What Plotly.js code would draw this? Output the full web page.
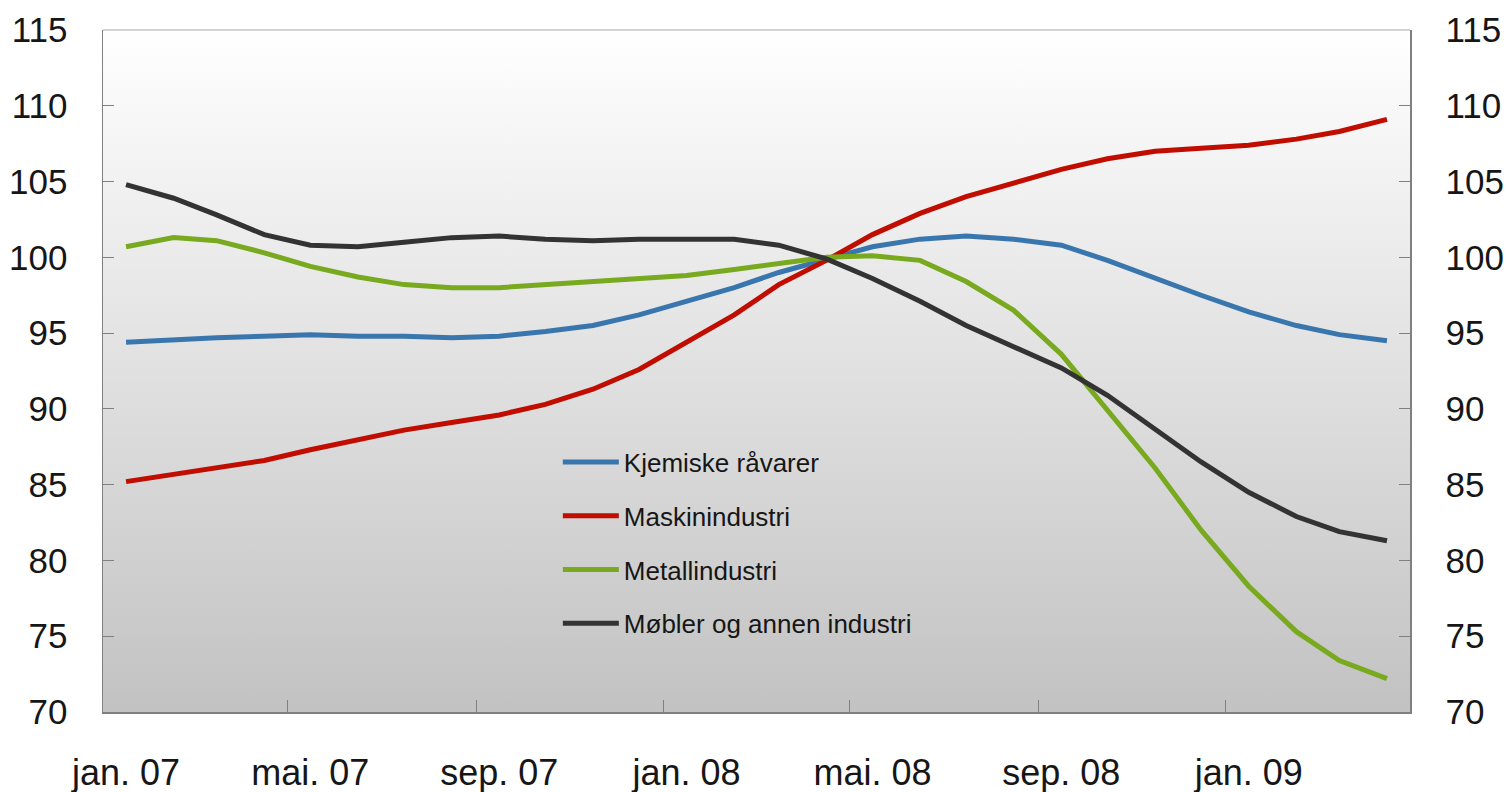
<!DOCTYPE html>
<html>
<head>
<meta charset="utf-8">
<script src="https://cdn.plot.ly/plotly-3.0.1.min.js"></script>
<style>html,body{margin:0;padding:0;background:#fff;}#chart{width:1506px;height:792px;}</style>
</head>
<body>
<div id="chart"></div>
<script>
// Monthly observations, jan. 2007 – apr. 2009
const months = ['2007-01','2007-02','2007-03','2007-04','2007-05','2007-06','2007-07','2007-08','2007-09','2007-10','2007-11','2007-12',
                '2008-01','2008-02','2008-03','2008-04','2008-05','2008-06','2008-07','2008-08','2008-09','2008-10','2008-11','2008-12',
                '2009-01','2009-02','2009-03','2009-04'];

const seriesNames = ['Kjemiske råvarer','Maskinindustri','Metallindustri','Møbler og annen industri'];

const kjemiske = [94.4,94.6,94.7,94.8,94.9,94.8,94.8,94.7,94.8,95.1,95.5,96.2,97.1,98.0,99.0,99.9,100.7,101.2,101.4,101.2,100.8,99.8,98.6,97.5,96.4,95.5,94.9,94.5];
const maskin   = [85.2,85.7,86.1,86.6,87.3,88.0,88.6,89.1,89.6,90.3,91.3,92.6,94.4,96.2,98.2,99.8,101.5,102.9,104.0,104.9,105.8,106.5,107.0,107.2,107.4,107.8,108.3,109.1];
const metall   = [100.7,101.3,101.1,100.3,99.4,98.7,98.2,98.0,98.0,98.2,98.4,98.6,98.8,99.2,99.6,100.0,100.1,99.8,98.4,96.5,93.6,89.9,86.1,82.0,78.3,75.3,73.4,72.2];
const mobler   = [104.8,103.9,102.8,101.5,100.8,100.7,101.0,101.3,101.4,101.2,101.1,101.2,101.2,101.2,100.8,99.9,98.6,97.1,95.5,94.1,92.7,90.9,88.7,86.5,84.5,82.9,81.9,81.3];

const tickDates  = ['2007-01-01','2007-05-01','2007-09-01','2008-01-01','2008-05-01','2008-09-01','2009-01-01'];
const tickLabels = ['jan. 07','mai. 07','sep. 07','jan. 08','mai. 08','sep. 08','jan. 09'];
const yTicks = [70,75,80,85,90,95,100,105,110,115];

const colors = ['#3a76ae','#c00d00','#78a91e','#333333'];
const values = [kjemiske, maskin, metall, mobler];

const xDates = months.map(m => m + '-16');

const traces = values.map((v, i) => ({
  type: 'scatter', mode: 'lines',
  x: xDates, y: v, name: seriesNames[i],
  legendgroup: 'g' + i,
  yaxis: i === 3 ? 'y2' : 'y',
  line: {color: colors[i], width: 5},
  hoverinfo: 'skip'
}));

const FONT = 'Liberation Sans, Arial, sans-serif';
const TXT = '#161616';
const gradSvg = "<svg xmlns='http://www.w3.org/2000/svg' width='100' height='100' preserveAspectRatio='none'><defs><linearGradient id='g' x1='0' y1='0' x2='0' y2='1'><stop offset='0' stop-color='#ffffff'/><stop offset='1' stop-color='#c2c2c2'/></linearGradient></defs><rect width='100' height='100' fill='url(#g)'/></svg>";

const yAxisCommon = {
  range: [70, 115], tickvals: yTicks,
  ticks: 'inside', ticklen: 11, tickcolor: '#808080', tickwidth: 1,
  ticklabelstandoff: 27,
  showline: true, linecolor: '#808080', linewidth: 1.5,
  showgrid: false, zeroline: false,
  tickfont: {size: 35, family: FONT, color: TXT}
};

const layout = {
  width: 1506, height: 792,
  margin: {l: 103, r: 96, t: 30, b: 80},
  paper_bgcolor: '#ffffff',
  plot_bgcolor: 'rgba(0,0,0,0)',
  showlegend: true,
  font: {family: FONT, color: TXT},
  images: [{
    source: 'data:image/svg+xml;charset=utf-8,' + encodeURIComponent(gradSvg),
    xref: 'paper', yref: 'paper', x: 0, y: 1, sizex: 1, sizey: 1,
    xanchor: 'left', yanchor: 'top', sizing: 'stretch', layer: 'below'
  }],
  xaxis: {
    type: 'date',
    range: ['2007-01-01', '2009-05-01'],
    tickvals: tickDates, ticktext: tickLabels,
    ticks: 'inside', ticklen: 12, tickcolor: '#808080', tickwidth: 1,
    ticklabelshift: 23, ticklabelstandoff: 28,
    showline: true, linecolor: '#808080', linewidth: 1.5,
    showgrid: false, zeroline: false,
    tickfont: {size: 36, family: FONT, color: TXT}
  },
  yaxis: Object.assign({}, yAxisCommon),
  yaxis2: Object.assign({overlaying: 'y', side: 'right', matches: 'y'}, yAxisCommon),
  shapes: [{
    type: 'line', xref: 'paper', yref: 'paper', x0: 0, x1: 1, y0: 1, y1: 1,
    line: {color: '#c4c4c4', width: 1.5}
  }],
  legend: {
    x: 0.348, y: 0.401, xanchor: 'left', yanchor: 'top',
    bgcolor: 'rgba(0,0,0,0)', borderwidth: 0,
    font: {size: 26, family: FONT, color: TXT},
    traceorder: 'grouped', tracegroupgap: 17,
    itemwidth: 56
  }
};

Plotly.newPlot('chart', traces, layout, {displayModeBar: false, staticPlot: true});
</script>
</body>
</html>
